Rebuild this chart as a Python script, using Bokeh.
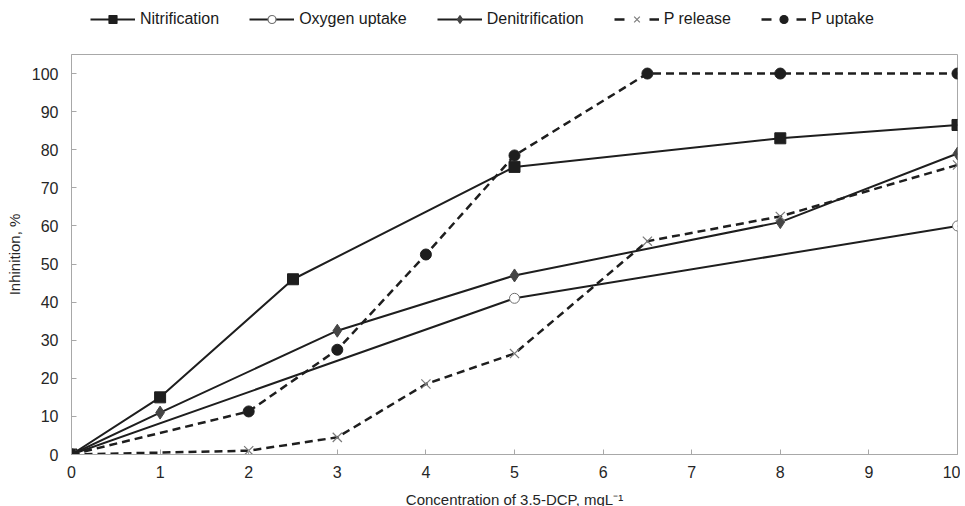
from bokeh.plotting import figure
from bokeh.layouts import column
from bokeh.models import Range1d, Legend, LegendItem, FixedTicker
from bokeh.embed import file_html
from bokeh.resources import INLINE

nit_x = [0, 1, 2.5, 5, 8, 10]
nit_y = [0, 15, 46, 75.5, 83, 86.5]
oxy_x = [0, 5, 10]
oxy_y = [0, 41, 60]
den_x = [0, 1, 3, 5, 8, 10]
den_y = [0, 11, 32.5, 47, 61, 79]
prel_x = [0, 2, 3, 4, 5, 6.5, 8, 10]
prel_y = [0, 1, 4.5, 18.5, 26.5, 56, 62.5, 76]
pup_x = [0, 2, 3, 4, 5, 6.5, 8, 10]
pup_y = [0, 11.3, 27.5, 52.5, 78.5, 100, 100, 100]

labels = ["Nitrification", "Oxygen uptake", "Denitrification", "P release", "P uptake"]
x_ticks = list(range(0, 11))
y_ticks = list(range(0, 101, 10))

FONT = "Liberation Sans"
DARK = "#1e1e1e"
AX = "#a8a8a8"
TXT = "#262626"

# main chart
p = figure(frame_width=886, frame_height=400, output_backend="svg", toolbar_location=None,
           x_range=Range1d(0, 10), y_range=Range1d(0, 105),
           min_border_left=71, min_border_right=3, min_border_top=8, min_border_bottom=52)
p.xgrid.visible = False
p.ygrid.visible = False
p.outline_line_color = AX

for ax in (p.xaxis[0], p.yaxis[0]):
    ax.axis_line_color = AX
    ax.major_tick_line_color = AX
    ax.major_tick_in = 5
    ax.major_tick_out = 0
    ax.minor_tick_line_color = None
    ax.major_label_text_font = FONT
    ax.major_label_text_font_size = "16px"
    ax.major_label_text_color = TXT
    ax.axis_label_text_font = FONT
    ax.axis_label_text_font_size = "15px"
    ax.axis_label_text_font_style = "normal"
    ax.axis_label_text_color = TXT
p.xaxis.ticker = FixedTicker(ticks=x_ticks)
p.yaxis.ticker = FixedTicker(ticks=y_ticks)
p.xaxis.axis_label = "Concentration of 3.5-DCP, mgL\u207b\u00b9"
p.yaxis.axis_label = "Inhinition, %"
p.xaxis.major_label_standoff = 11
p.yaxis.major_label_standoff = 13
p.xaxis.axis_label_standoff = 10
p.yaxis.axis_label_standoff = 6

p.line(nit_x, nit_y, line_color=DARK, line_width=2)
p.scatter(nit_x, nit_y, marker="square", size=11, fill_color=DARK, line_color=DARK)
p.line(oxy_x, oxy_y, line_color=DARK, line_width=2)
p.scatter(oxy_x, oxy_y, marker="circle", size=10, fill_color="white", line_color="#707070", line_width=1)
p.line(den_x, den_y, line_color=DARK, line_width=2)
p.scatter(den_x, den_y, marker="diamond", size=13, fill_color="#454545", line_color="#454545")
p.line(prel_x, prel_y, line_color=DARK, line_width=2.5, line_dash="8 5")
p.scatter(prel_x, prel_y, marker="x", size=13, line_color="#7a7a7a", line_width=1.2)
p.line(pup_x, pup_y, line_color=DARK, line_width=2.5, line_dash="8 5")
p.scatter(pup_x, pup_y, marker="circle", size=11, fill_color=DARK, line_color=DARK)

# legend strip (its frame is aligned with the chart frame by the column layout)
lg = figure(width=960, height=46, output_backend="svg", toolbar_location=None,
            x_axis_type=None, y_axis_type=None, x_range=Range1d(0, 1), y_range=Range1d(0, 1),
            min_border_left=0, min_border_right=0, min_border_top=0, min_border_bottom=0)
lg.outline_line_color = None
lg.xgrid.visible = False
lg.ygrid.visible = False

styles = [
    dict(dash="solid", lw=2, marker="square", size=8, fill=DARK, line=DARK),
    dict(dash="solid", lw=2, marker="circle", size=7, fill="white", line="#707070"),
    dict(dash="solid", lw=2, marker="diamond", size=10, fill="#454545", line="#454545"),
    dict(dash="10 25", lw=2.5, marker="x", size=13, fill=None, line="#7a7a7a"),
    dict(dash="10 25", lw=2.5, marker="circle", size=9, fill=DARK, line=DARK),
]
nan = [float("nan")]
items = []
for lab, st in zip(labels, styles):
    lr = lg.line(x=nan, y=nan, line_color=DARK, line_width=st["lw"], line_dash=st["dash"])
    mr = lg.scatter(x=nan, y=nan, marker=st["marker"], size=st["size"],
                    fill_color=st["fill"], line_color=st["line"], line_width=1.2)
    items.append(LegendItem(label=lab, renderers=[lr, mr]))

legend = Legend(items=items, orientation="horizontal", location=(19, 17),
                glyph_width=45, glyph_height=20, label_text_font=FONT, label_text_font_size="16px",
                label_text_color="#1a1a1a", spacing=30, border_line_color=None,
                background_fill_alpha=0, padding=0, margin=0, label_standoff=5)
lg.add_layout(legend, "center")

layout = column(lg, p, spacing=0)
open("out.html", "w").write(file_html(layout, INLINE))
